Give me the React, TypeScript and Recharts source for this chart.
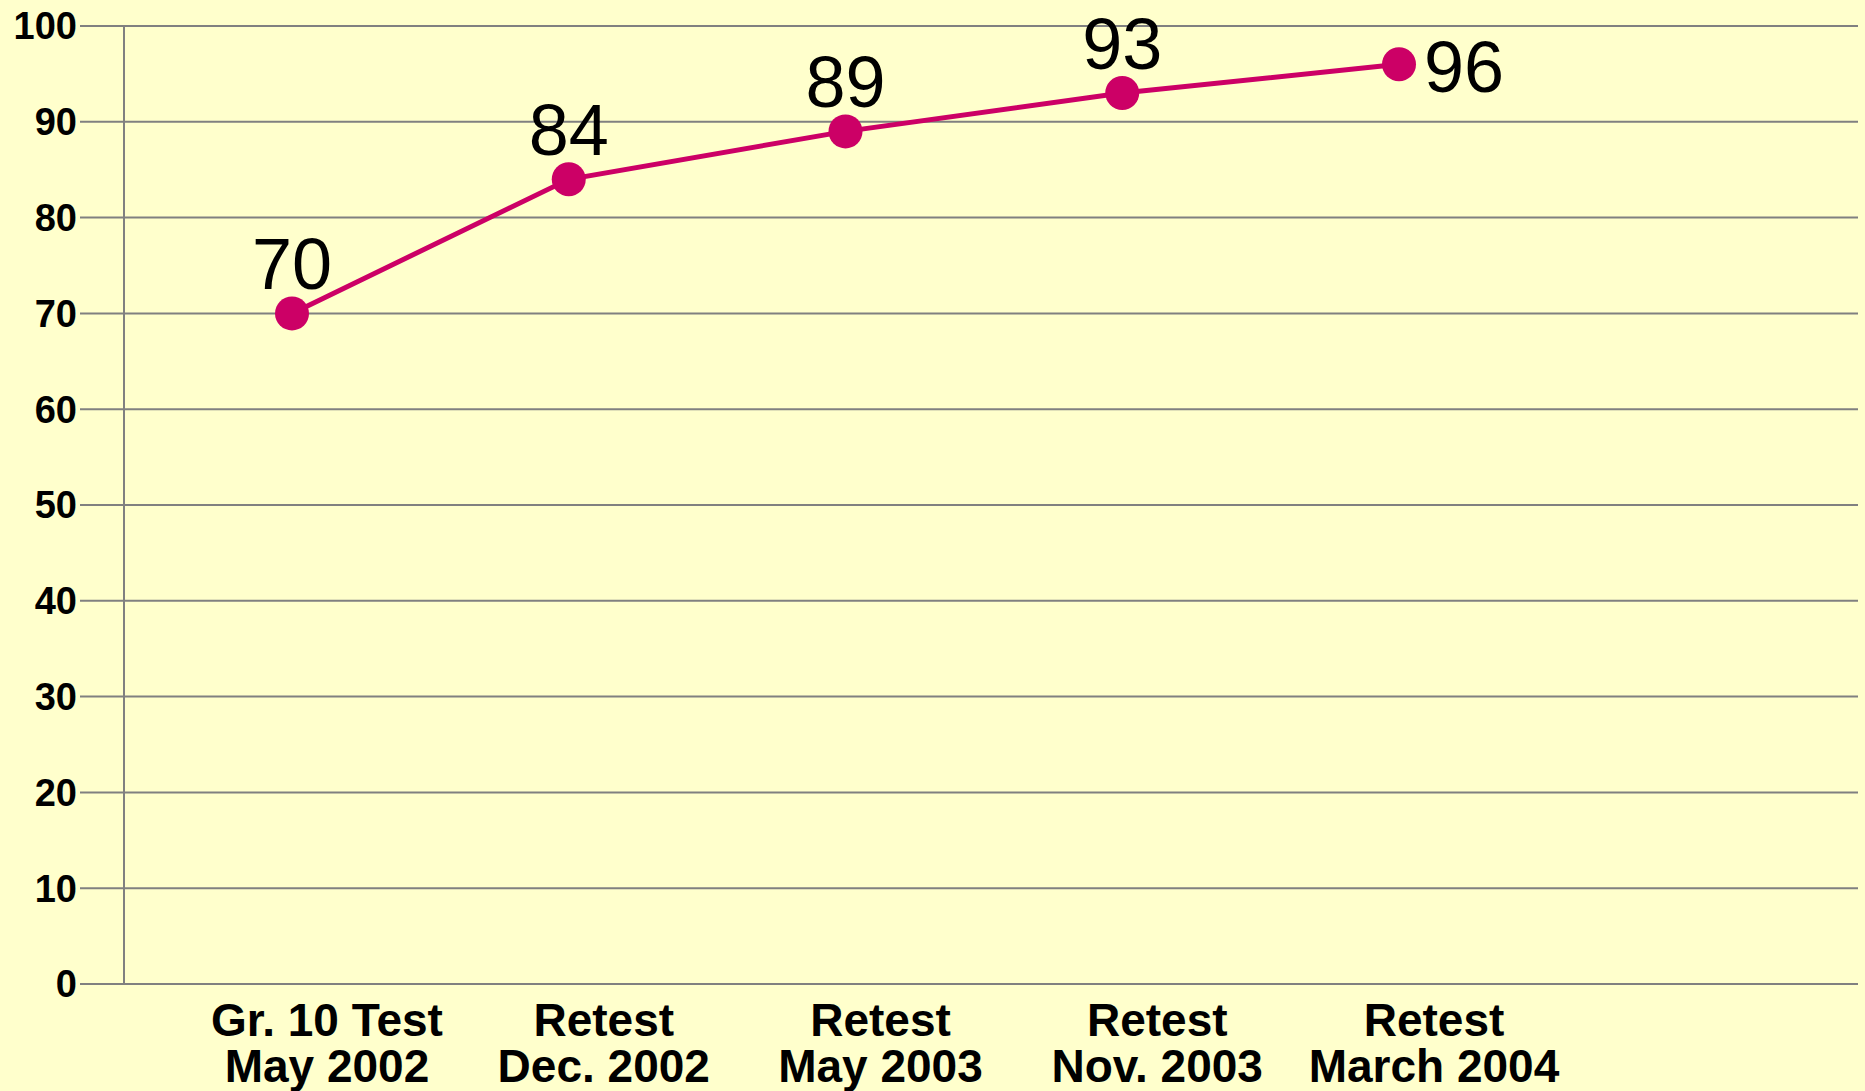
import React from "react";
import { LineChart, Line, XAxis, YAxis, CartesianGrid, LabelList } from "recharts";

const testNames = ["Gr. 10 Test", "Retest", "Retest", "Retest", "Retest"];
const testDates = ["May 2002", "Dec. 2002", "May 2003", "Nov. 2003", "March 2004"];
const passRates = [70, 84, 89, 93, 96];
const yTicks = [0, 10, 20, 30, 40, 50, 60, 70, 80, 90, 100];

const data = testNames.map((name, i) => ({
  key: `${name}|${testDates[i]}`,
  name,
  date: testDates[i],
  value: passRates[i],
}));

const FONT = "'Liberation Sans', Arial, Helvetica, sans-serif";
const BG = "#FFFFCC";
const GRID = "#808080";
const LINE = "#CC0066";

const CategoryTick = (props: any) => {
  const { x, y, index } = props;
  const cx = x + 35;
  const common = {
    textAnchor: "middle" as const,
    fontFamily: FONT,
    fontWeight: "bold",
    fontSize: 46,
    fill: "#000",
  };
  return (
    <g>
      <text x={cx} y={y + 52} {...common}>{testNames[index]}</text>
      <text x={cx} y={y + 98} {...common}>{testDates[index]}</text>
    </g>
  );
};

const ValueLabel = (props: any) => {
  const { x, y, value, index } = props;
  const last = index === passRates.length - 1;
  return (
    <text
      x={last ? x + 25 : x}
      y={last ? y + 28 : y - 24}
      textAnchor={last ? "start" : "middle"}
      fontFamily={FONT}
      fontSize={72}
      fill="#000"
    >
      {value}
    </text>
  );
};

export default function App() {
  return (
    <div
      style={{
        position: "absolute",
        left: 0,
        top: 0,
        width: 1865,
        height: 1091,
        background: BG,
      }}
    >
      <LineChart
        width={1865}
        height={1091}
        data={data}
        margin={{ top: 26, right: 7, bottom: 0, left: 0 }}
      >
        <CartesianGrid vertical={false} stroke={GRID} strokeWidth={2} />
        <XAxis
          dataKey="key"
          type="category"
          height={107}
          padding={{ left: 168, right: 459 }}
          axisLine={{ stroke: GRID, strokeWidth: 2 }}
          tickLine={false}
          tickSize={0}
          tickMargin={0}
          interval={0}
          tick={<CategoryTick />}
        />
        <YAxis
          type="number"
          domain={[0, 100]}
          ticks={yTicks}
          width={124}
          interval={0}
          axisLine={{ stroke: GRID, strokeWidth: 2 }}
          tickLine={{ stroke: GRID, strokeWidth: 2 }}
          tickSize={44}
          tickMargin={3}
          tick={{ fontFamily: FONT, fontWeight: "bold", fontSize: 38, fill: "#000" }}
        />
        <Line
          type="linear"
          dataKey="value"
          stroke={LINE}
          strokeWidth={5}
          dot={{ r: 17, fill: LINE, stroke: "none" }}
          activeDot={false}
          isAnimationActive={false}
        >
          <LabelList dataKey="value" content={<ValueLabel />} />
        </Line>
      </LineChart>
    </div>
  );
}
